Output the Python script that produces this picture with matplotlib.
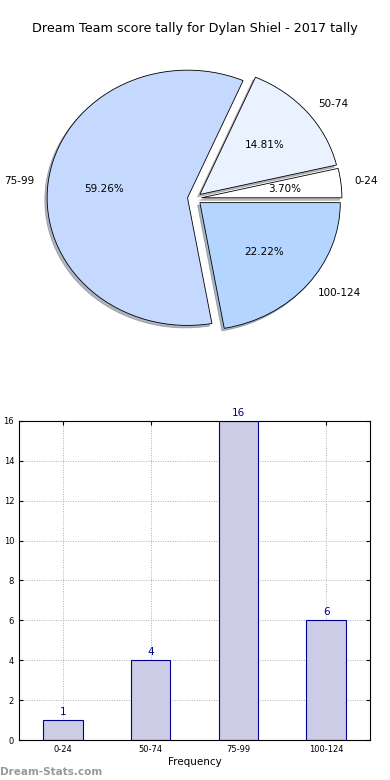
import matplotlib
matplotlib.use("Agg")
import matplotlib.pyplot as plt

categories = ["0-24", "50-74", "75-99", "100-124"]
counts = [1, 4, 16, 6]
pie_colors = ["#ffffff", "#eaf1ff", "#c5d9ff", "#b3d5ff"]
title = "Dream Team score tally for Dylan Shiel - 2017 tally"

fig = plt.figure(figsize=(3.9, 7.8), dpi=100)
fig.subplots_adjust(left=19/390, right=370/390, bottom=40/780, top=741/780, hspace=0.197)
ax1 = fig.add_subplot(2, 1, 1)
ax2 = fig.add_subplot(2, 1, 2)

wedges, texts, autotexts = ax1.pie(
    counts, labels=categories, colors=pie_colors, explode=[0.05] * 4,
    autopct="%1.2f%%", shadow={"ox": -0.012, "oy": -0.014, "shade": 0.5},
    startangle=0,
    wedgeprops=dict(edgecolor="black", linewidth=0.6),
    textprops=dict(fontsize=7.5))
ax1.set_aspect("auto")
ax1.set_xlim(-1.25, 1.25)
ax1.set_ylim(-1.25, 1.25)
ax1.set_title(title, fontsize=9.2, pad=5)

x = list(range(len(categories)))
bars = ax2.bar(x, counts, width=0.45, color="#ccccE6", edgecolor="#00008b", linewidth=0.8, zorder=2)
for xi, c in zip(x, counts):
    ax2.text(xi, c + 0.15, str(c), ha="center", va="bottom", color="#00008b", fontsize=7.5)
ax2.set_xticks(x)
ax2.set_xticklabels(categories)
ax2.set_xlim(-0.5, 3.5)
ax2.set_ylim(0, 16)
ax2.set_yticks(range(0, 17, 2))
ax2.tick_params(labelsize=6, direction="in", top=True, right=True, length=3)
ax2.grid(True, linestyle=(0, (1, 1.5)), color="#b0b0b0", linewidth=0.7, zorder=0)
ax2.set_axisbelow(True)
ax2.set_xlabel("Frequency", fontsize=7.5, labelpad=2)
ax2.set_ylabel("Score Interval", fontsize=7.5, labelpad=1)
for s in ax2.spines.values():
    s.set_linewidth(0.8)

fig.text(0.0, 0.004, "Dream-Stats.com", fontsize=7.5, fontweight="bold", color="#999999",
         ha="left", va="bottom")

fig.savefig("out.png", dpi=100)
